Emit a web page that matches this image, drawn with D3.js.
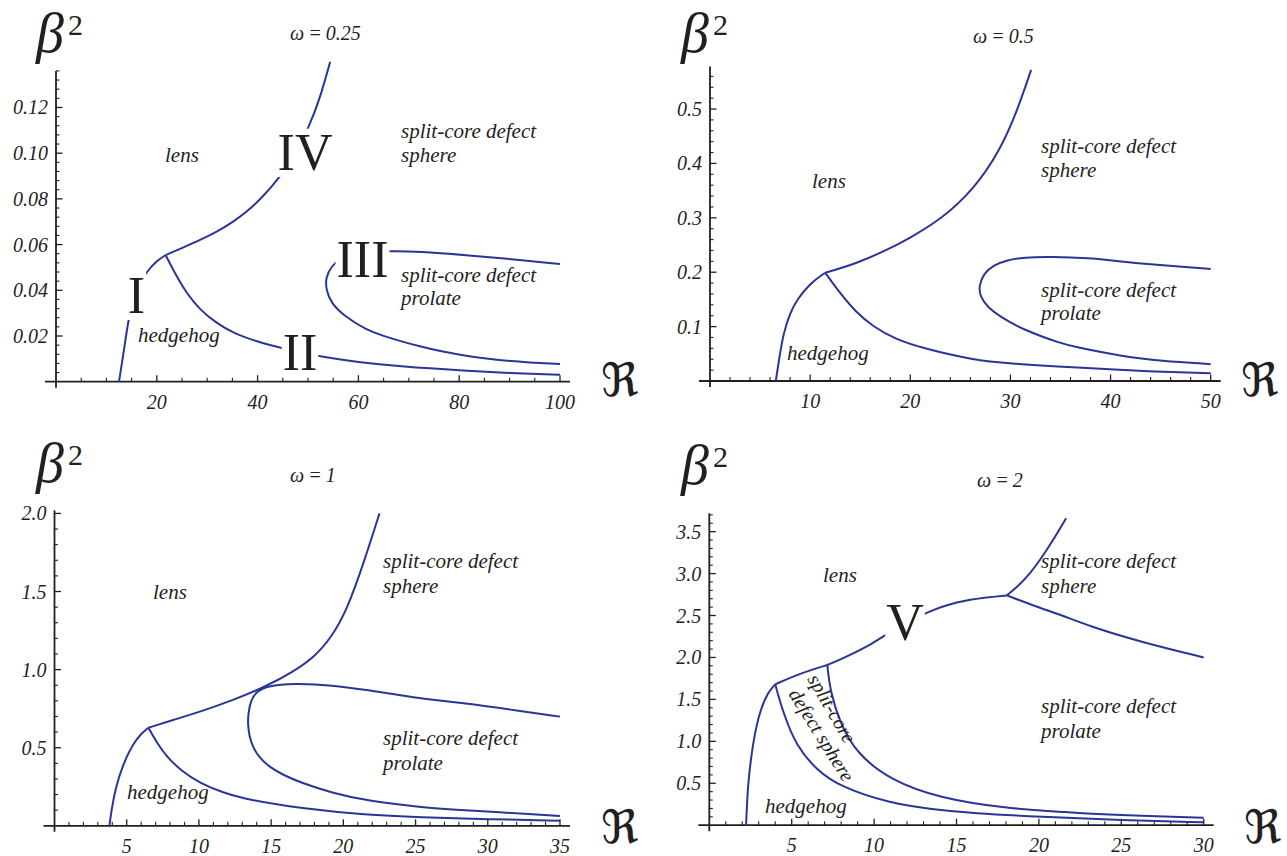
<!DOCTYPE html>
<html>
<head>
<meta charset="utf-8">
<script src="https://cdn.jsdelivr.net/npm/d3@7"></script>
<style>
    body { margin: 0; background: #fff; }
    svg { display: block; }
    text { font-family: "Liberation Serif", "Times New Roman", serif; fill: #231f20; }
</style>
</head>
<body>
<svg id="chart" width="1287" height="856"></svg>
<script>
// ---- data: phase boundaries, [R, beta^2] ----

// omega = 0.25
const w025HedgehogLens = [[12.5, 0], [13.0, 0.007], [13.5, 0.014], [14.35, 0.027], [15.3, 0.036], [16.5, 0.043], [18, 0.048], [20, 0.053], [21.76, 0.0554]];
const w025LensSphere = [[21.76, 0.0554], [25, 0.0585], [28.6, 0.062], [32, 0.0657], [35.2, 0.0700], [38, 0.0746], [41.1, 0.081], [44.4, 0.0895], [47.5, 0.0995], [50.1, 0.111], [52.4, 0.124], [54.4, 0.140]];
const w025HedgehogSphere = [[21.76, 0.0554], [23.94, 0.0460], [25.93, 0.0387], [28.57, 0.0314], [31.88, 0.0256], [35.19, 0.0212], [39.81, 0.0176], [44.77, 0.0147], [52.05, 0.0110], [60, 0.0085], [68.3, 0.0066], [81.5, 0.0048], [90, 0.0038], [100, 0.0030]];
const w025Prolate = [[100, 0.0515], [90, 0.0537], [81.5, 0.0554], [72, 0.0570], [66, 0.0572], [60, 0.0566], [56.6, 0.0543], [54.6, 0.0505], [53.5, 0.0455], [53.6, 0.040], [54.6, 0.0345], [57, 0.029], [61.6, 0.0226], [65, 0.0200], [68.3, 0.0178], [72.2, 0.0154], [76, 0.0135], [81.5, 0.0112], [88, 0.0094], [94, 0.0084], [100, 0.0077]];

// omega = 0.5
const w05HedgehogLens = [[6.57, 0], [6.9, 0.04], [7.33, 0.088], [8, 0.125], [8.67, 0.149], [10, 0.180], [11.5, 0.199]];
const w05LensSphere = [[11.5, 0.199], [14.67, 0.216], [18, 0.244], [19.67, 0.260], [23, 0.296], [26.3, 0.351], [29, 0.425], [30.7, 0.498], [32.07, 0.572]];
const w05HedgehogSphere = [[11.5, 0.199], [13, 0.161], [14.5, 0.128], [16.3, 0.0998], [18.5, 0.077], [21.3, 0.060], [26.3, 0.0386], [30, 0.032], [35, 0.0263], [41.3, 0.0202], [45, 0.017], [50, 0.0141]];
const w05Prolate = [[50, 0.206], [46.5, 0.211], [43, 0.216], [40, 0.222], [38, 0.226], [34, 0.2285], [31.33, 0.2274], [29.67, 0.2224], [28.33, 0.2132], [27.33, 0.198], [26.83, 0.1733], [27, 0.155], [27.67, 0.1366], [29, 0.118], [31.33, 0.0938], [35, 0.0693], [36.33, 0.063], [41.33, 0.0447], [45, 0.037], [50, 0.031]];

// omega = 1
const w1HedgehogLens = [[3.8, 0], [3.95, 0.1], [4.19, 0.229], [4.76, 0.40], [5.46, 0.528], [6.0, 0.59], [6.5, 0.628]];
const w1LensSphere = [[6.5, 0.628], [8.3, 0.68], [10.08, 0.730], [12.4, 0.805], [14.7, 0.895], [16.5, 0.985], [18, 1.08], [19.2, 1.21], [20.24, 1.38], [21.4, 1.68], [22.5, 2.0]];
const w1HedgehogSphere = [[6.5, 0.628], [7.1, 0.53], [7.77, 0.442], [8.8, 0.35], [10.08, 0.272], [11.7, 0.21], [13.5, 0.165], [17, 0.112], [21.6, 0.069], [25.3, 0.055], [30, 0.042], [35, 0.033]];
const w1Prolate = [[35, 0.699], [31.5, 0.745], [28.5, 0.784], [25.3, 0.816], [23.9, 0.837], [21.6, 0.869], [19.3, 0.90], [16.54, 0.912], [14.69, 0.895], [14.0, 0.859], [13.59, 0.805], [13.42, 0.72], [13.38, 0.656], [13.49, 0.570], [13.77, 0.496], [14.23, 0.432], [14.92, 0.374], [15.85, 0.325], [17.0, 0.278], [19.31, 0.208], [21.62, 0.161], [25.31, 0.118], [28.5, 0.099], [35, 0.063]];

// omega = 2
const w2HedgehogLens = [[2.23, 0], [2.3, 0.3], [2.37, 0.54], [2.67, 1.016], [3.08, 1.374], [3.58, 1.59], [4.0, 1.68]];
const w2LensSplit = [[4.0, 1.68], [5.5, 1.81], [7.16, 1.91]];
const w2LensProlate = [[7.16, 1.91], [8.34, 2.01], [9.95, 2.17], [10.86, 2.29], [12, 2.42], [13.09, 2.53], [15, 2.67], [17, 2.72], [18.05, 2.74]];
const w2LensSphere = [[18.05, 2.74], [18.8, 2.86], [19.46, 3.0], [20.1, 3.17], [20.8, 3.38], [21.65, 3.66]];
const w2SphereProlate = [[18.05, 2.74], [20.07, 2.59], [21.3, 2.51], [23.1, 2.37], [26.1, 2.19], [30, 2.0]];
const w2HedgehogSplit = [[4.0, 1.68], [4.49, 1.334], [5.3, 0.936], [6.52, 0.658], [7.93, 0.459], [10.96, 0.261], [13.5, 0.19], [16, 0.142], [20.07, 0.10], [25, 0.06], [30, 0.035]];
const w2SplitProlate = [[7.16, 1.91], [7.32, 1.61], [7.93, 1.215], [8.94, 0.857], [10.96, 0.539], [14, 0.32], [18.05, 0.20], [21.3, 0.161], [24.1, 0.122], [30, 0.09]];

// titles and ticks
const omegaTitles = ["ω\u2009=\u20090.25", "ω\u2009=\u20090.5", "ω\u2009=\u20091", "ω\u2009=\u20092"];
const xTicks025 = [20, 40, 60, 80, 100];
const yTicks025 = [0.02, 0.04, 0.06, 0.08, 0.10, 0.12];
const xTicks05 = [10, 20, 30, 40, 50];
const yTicks05 = [0.1, 0.2, 0.3, 0.4, 0.5];
const xTicks1 = [5, 10, 15, 20, 25, 30, 35];
const yTicks1 = [0.5, 1.0, 1.5, 2.0];
const xTicks2 = [5, 10, 15, 20, 25, 30];
const yTicks2 = [0.5, 1.0, 1.5, 2.0, 2.5, 3.0, 3.5];

// ---- layout ----
const lineColor = "#2b3597";

const panels = [
    {
        title: omegaTitles[0], titlePos: [290, 40],
        xDomain: [0, 100], yDomain: [0, 0.136],
        xRange: [56, 560], yRange: [381.7, 70.9],
        xTicks: xTicks025, yTicks: yTicks025, xMinor: 5, yMinor: 0.004, yFormat: ".2f",
        curves: [w025HedgehogLens, w025LensSphere, w025HedgehogSphere, w025Prolate],
        labels: [
            ["lens", 165, 161.7], ["split-core defect", 401, 138.3], ["sphere", 401, 161.7],
            ["split-core defect", 401, 281.7], ["prolate", 401, 305], ["hedgehog", 138, 341.7]
        ],
        numerals: [["I", 136.5, 313], ["II", 300, 370], ["III", 362.5, 277], ["IV", 305, 170]],
        beta: [36, 52], frak: [601, 396]
    },
    {
        title: omegaTitles[1], titlePos: [973, 42.7],
        xDomain: [0, 50], yDomain: [0, 0.578],
        xRange: [710, 1210.7], yRange: [381, 66.6],
        xTicks: xTicks05, yTicks: yTicks05, xMinor: 2, yMinor: 0.02, yFormat: ".1f",
        curves: [w05HedgehogLens, w05LensSphere, w05HedgehogSphere, w05Prolate],
        labels: [
            ["lens", 812, 188.3], ["split-core defect", 1041, 153.3], ["sphere", 1041, 176.7],
            ["split-core defect", 1041, 296.7], ["prolate", 1041, 320], ["hedgehog", 787, 360]
        ],
        numerals: [],
        beta: [681, 52], frak: [1241, 396]
    },
    {
        title: omegaTitles[2], titlePos: [290, 482],
        xDomain: [0, 35], yDomain: [0, 2.02],
        xRange: [54.5, 560], yRange: [825.8, 510.3],
        xTicks: xTicks1, yTicks: yTicks1, xMinor: 1, yMinor: 0.1, yFormat: ".1f",
        curves: [w1HedgehogLens, w1LensSphere, w1HedgehogSphere, w1Prolate],
        labels: [
            ["lens", 153, 599.3], ["split-core defect", 383, 568], ["sphere", 383, 593],
            ["split-core defect", 383, 745], ["prolate", 383, 770], ["hedgehog", 127, 799]
        ],
        numerals: [],
        beta: [36, 482], frak: [601, 843]
    },
    {
        title: omegaTitles[3], titlePos: [977, 487],
        xDomain: [0, 30], yDomain: [0, 3.72],
        xRange: [709.3, 1203.7], yRange: [825.2, 513.2],
        xTicks: xTicks2, yTicks: yTicks2, xMinor: 1, yMinor: 0.1, yFormat: ".1f",
        curves: [w2HedgehogLens, w2LensSplit, w2LensProlate, w2LensSphere, w2SphereProlate, w2HedgehogSplit, w2SplitProlate],
        labels: [
            ["lens", 823, 581.7], ["split-core defect", 1041, 568], ["sphere", 1041, 593],
            ["split-core defect", 1041, 713], ["prolate", 1041, 738], ["hedgehog", 765, 813]
        ],
        rotated: [["split-core", 807, 679, 60], ["defect sphere", 788, 694, 58]],
        numerals: [["V", 905, 640]],
        beta: [681, 484], frak: [1244, 843]
    }
];

const svg = d3.select("#chart");

panels.forEach(function (p) {
    const x = d3.scaleLinear().domain(p.xDomain).range(p.xRange);
    const y = d3.scaleLinear().domain(p.yDomain).range(p.yRange);
    const g = svg.append("g");

    // axes lines
    const x0 = x(0), y0 = y(0);
    g.append("line")
        .attr("x1", x0 - 11).attr("x2", x(p.xDomain[1]) + 10)
        .attr("y1", y0).attr("y2", y0)
        .attr("stroke", "#231f20").attr("stroke-width", 1.8);
    g.append("line")
        .attr("x1", x0).attr("x2", x0)
        .attr("y1", y0 + 6).attr("y2", y(p.yDomain[1]))
        .attr("stroke", "#231f20").attr("stroke-width", 1.8);

    // ticks
    const eps = 1e-9;
    const xMinorTicks = d3.range(p.xMinor, p.xDomain[1] + eps, p.xMinor)
        .filter(v => !p.xTicks.some(t => Math.abs(t - v) < eps));
    const yMinorTicks = d3.range(p.yMinor, p.yDomain[1] + eps, p.yMinor)
        .filter(v => !p.yTicks.some(t => Math.abs(t - v) < p.yMinor / 10));

    g.selectAll(".xmaj").data(p.xTicks).enter().append("line")
        .attr("x1", d => x(d)).attr("x2", d => x(d))
        .attr("y1", y0).attr("y2", y0 - 6.5)
        .attr("stroke", "#231f20").attr("stroke-width", 1.3);
    g.selectAll(".xmin").data(xMinorTicks).enter().append("line")
        .attr("x1", d => x(d)).attr("x2", d => x(d))
        .attr("y1", y0).attr("y2", y0 - 4)
        .attr("stroke", "#231f20").attr("stroke-width", 1.1);
    g.selectAll(".ymaj").data(p.yTicks).enter().append("line")
        .attr("x1", x0).attr("x2", x0 + 6.5)
        .attr("y1", d => y(d)).attr("y2", d => y(d))
        .attr("stroke", "#231f20").attr("stroke-width", 1.3);
    g.selectAll(".ymin").data(yMinorTicks).enter().append("line")
        .attr("x1", x0).attr("x2", x0 + 3.5)
        .attr("y1", d => y(d)).attr("y2", d => y(d))
        .attr("stroke", "#231f20").attr("stroke-width", 1.1);

    // tick labels
    g.selectAll(".xlab").data(p.xTicks).enter().append("text")
        .attr("x", d => x(d)).attr("y", y0 + 27)
        .attr("text-anchor", "middle")
        .style("font-style", "italic").style("font-size", "20px")
        .text(d => d);
    const fmt = d3.format(p.yFormat);
    g.selectAll(".ylab").data(p.yTicks).enter().append("text")
        .attr("x", x0 - 8).attr("y", d => y(d) + 7)
        .attr("text-anchor", "end")
        .style("font-style", "italic").style("font-size", "20px")
        .text(d => fmt(d));

    // boundary curves
    const line = d3.line()
        .x(d => x(d[0]))
        .y(d => y(d[1]))
        .curve(d3.curveBasis);
    g.selectAll(".curve").data(p.curves).enter().append("path")
        .attr("d", line)
        .attr("fill", "none")
        .attr("stroke", lineColor)
        .attr("stroke-width", 2);

    // region labels
    g.selectAll(".region").data(p.labels).enter().append("text")
        .attr("x", d => d[1]).attr("y", d => d[2])
        .style("font-style", "italic").style("font-size", "21px")
        .text(d => d[0]);
    if (p.rotated) {
        g.selectAll(".rot").data(p.rotated).enter().append("text")
            .attr("transform", d => "translate(" + d[1] + "," + d[2] + ") rotate(" + d[3] + ")")
            .style("font-style", "italic").style("font-size", "20px")
            .text(d => d[0]);
    }

    // roman numerals with a cleared background
    p.numerals.forEach(function (n) {
        const t = g.append("text")
            .attr("x", n[1]).attr("y", n[2])
            .attr("text-anchor", "middle")
            .style("font-size", "52px")
            .text(n[0]);
        const bb = t.node().getBBox();
        g.insert("rect", function () { return t.node(); })
            .attr("x", bb.x - 1).attr("width", bb.width + 2)
            .attr("y", n[2] - 0.66 * 52 - 7).attr("height", 0.66 * 52 + 14)
            .attr("fill", "#fff");
    });

    // title
    g.append("text")
        .attr("x", p.titlePos[0]).attr("y", p.titlePos[1])
        .style("font-style", "italic").style("font-size", "20px")
        .text(p.title);

    // axis names
    g.append("text")
        .attr("x", p.beta[0]).attr("y", p.beta[1])
        .style("font-style", "italic").style("font-size", "56px")
        .text("β");
    g.append("text")
        .attr("x", p.beta[0] + 32).attr("y", p.beta[1] - 17)
        .style("font-size", "30px")
        .text("2");
    g.append("text")
        .attr("x", p.frak[0]).attr("y", p.frak[1])
        .style("font-family", "'DejaVu Serif', 'DejaVu Sans', serif")
        .style("font-size", "46px")
        .text("ℜ");
});
</script>
</body>
</html>
